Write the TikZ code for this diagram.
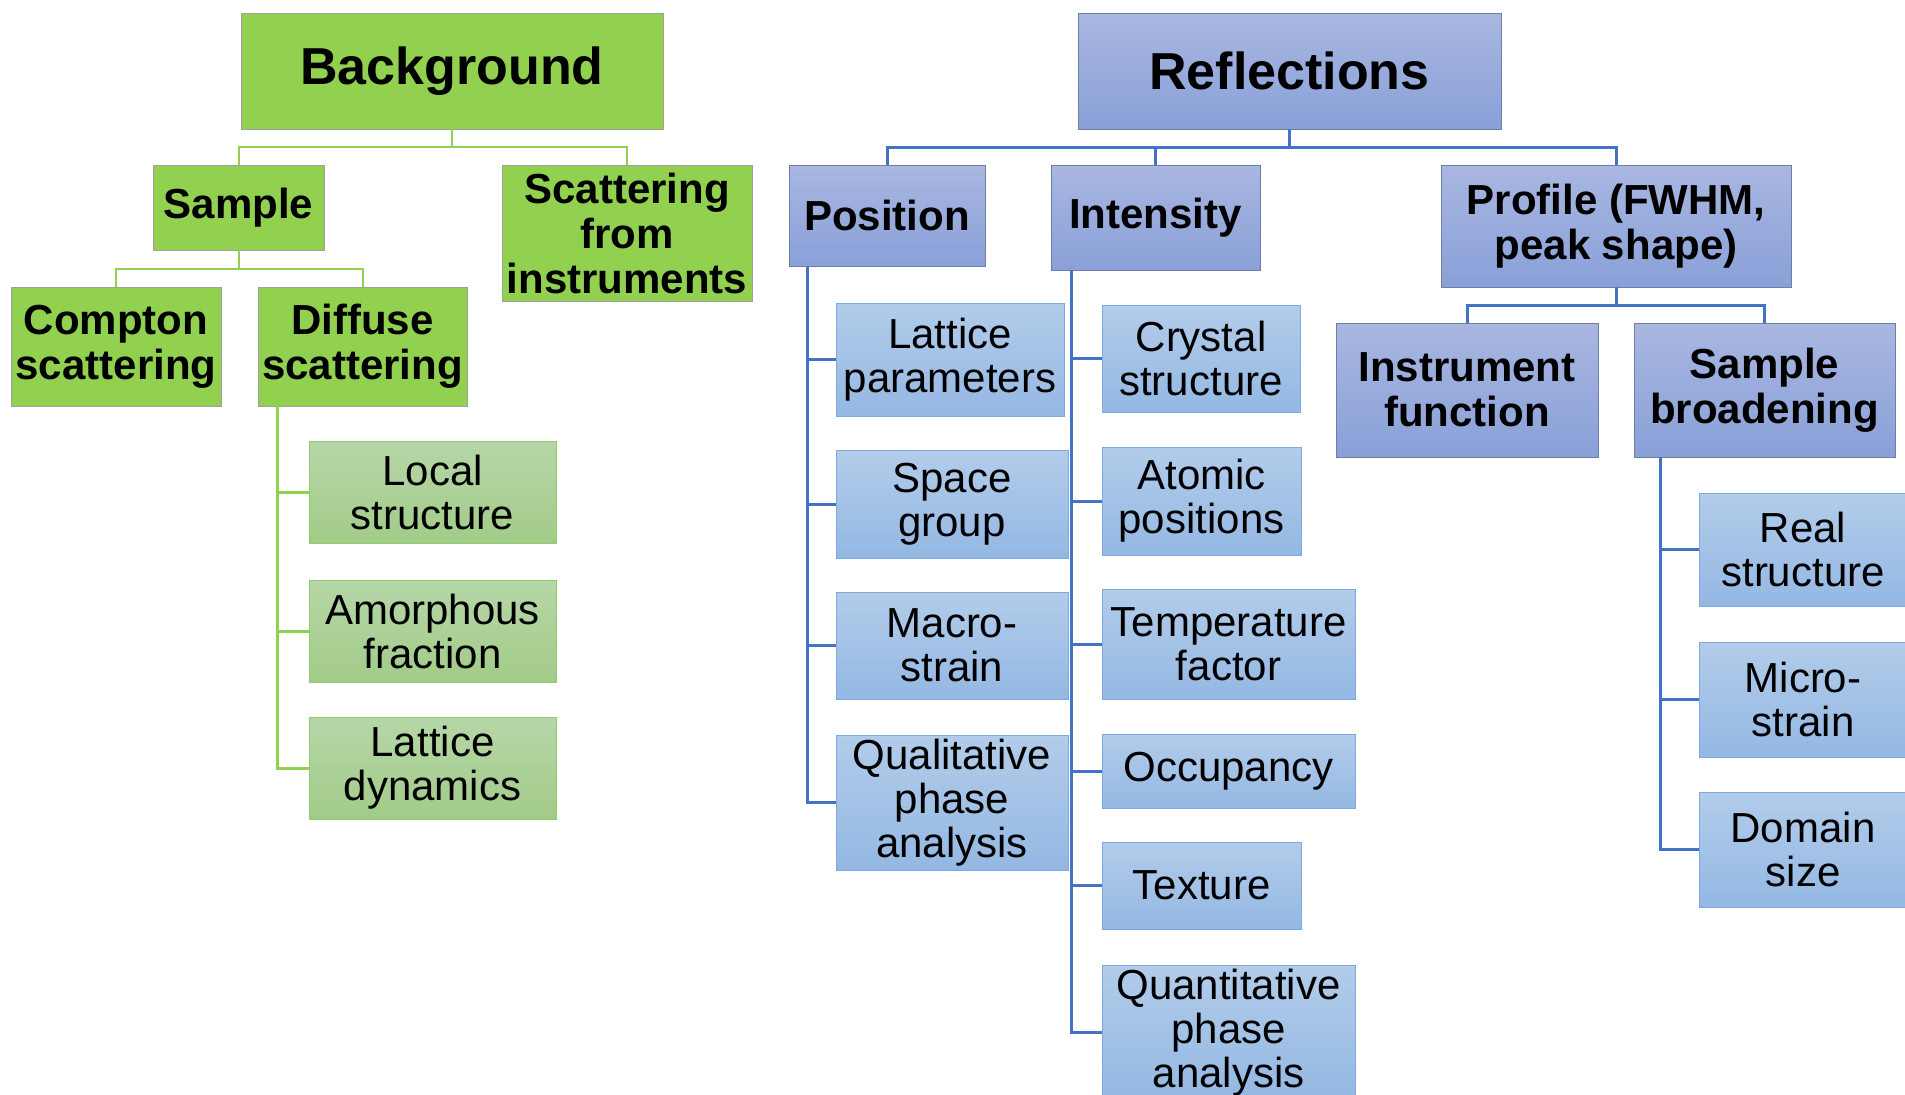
\documentclass[tikz,border=0pt]{standalone}
\usepackage{fontspec}
\setmainfont{Liberation Sans}
\usepackage{xcolor}

\definecolor{grnfill}{HTML}{92D050}
\definecolor{grntop}{HTML}{B6D7A8}
\definecolor{grnbot}{HTML}{A2CB88}
\definecolor{grnedge}{HTML}{8FCB66}
\definecolor{blutop}{HTML}{A9B7E1}
\definecolor{blubot}{HTML}{89A0D8}
\definecolor{bluedge}{HTML}{6F7FA3}
\definecolor{lbtop}{HTML}{B2CCEA}
\definecolor{lbbot}{HTML}{94B8E3}
\definecolor{lbedge}{HTML}{7CA9DE}
\definecolor{bluline}{HTML}{4472C4}

\begin{document}
\begin{tikzpicture}[x=0.5pt, y=-0.5pt,
    box/.style 2 args={minimum width=#1*0.5pt, minimum height=#2*0.5pt, inner sep=0pt, align=center},
    toptitle/.style={font=\bfseries\fontsize{26}{28}\selectfont},
    headg/.style={draw=gray!75, fill=grnfill, font=\bfseries\fontsize{21}{22.5}\selectfont},
    leafg/.style={draw=grnedge, top color=grntop, bottom color=grnbot, font=\fontsize{21}{22}\selectfont},
    headb/.style={draw=bluedge, top color=blutop, bottom color=blubot, font=\bfseries\fontsize{21}{22.5}\selectfont},
    leafb/.style={draw=lbedge, top color=lbtop, bottom color=lbbot, font=\fontsize{21}{22}\selectfont},
    lineg/.style={draw=grnfill, line width=1pt},
    lineb/.style={draw=bluline, line width=1.5pt}]
  \useasboundingbox (0,0) rectangle (1905,1094);

  % background tree
  \node[headg, toptitle, box={422}{116}] (bg) at (452,71) {Background};
  \node[headg, box={171}{85}] (sample) at (238.5,207.5) {Sample};
  \node[headg, box={250}{136}] (instr) at (627,233) {Scattering\\from\\instruments};
  \node[headg, box={210}{119}] (compton) at (116,346.5) {Compton\\scattering};
  \node[headg, box={209}{119}] (diffuse) at (362.5,346.5) {Diffuse\\scattering};
  \node[leafg, box={247}{102}] (local) at (432.5,492) {Local\\structure};
  \node[leafg, box={247}{102}] (amorph) at (432.5,631) {Amorphous\\fraction};
  \node[leafg, box={247}{102}] (latdyn) at (432.5,768) {Lattice\\dynamics};

  \draw[lineg] (bg.south) -- ++(0,18) -| (sample.north);
  \draw[lineg] (bg.south) -- ++(0,18) -| (instr.north);
  \draw[lineg] (sample.south) -- ++(0,18.5) -| (compton.north);
  \draw[lineg] (sample.south) -- ++(0,18.5) -| (diffuse.north);
  \foreach \leaf in {local,amorph,latdyn}
    \draw[lineg, line width=1.5pt] (diffuse.south west) ++(20,0) |- (\leaf.west);

  % reflections tree
  \node[headb, toptitle, box={423}{116}] (refl) at (1289.5,71) {Reflections};
  \node[headb, box={196}{101}] (pos) at (887,215.5) {Position};
  \node[headb, box={209}{105}] (inten) at (1155.5,217.5) {Intensity};
  \node[headb, box={350}{122}] (prof) at (1616,226) {Profile (FWHM,\\peak shape)};
  \node[headb, box={262}{134}] (instfn) at (1467,390) {Instrument\\function};
  \node[headb, box={261}{134}] (sbroad) at (1764.5,390) {Sample\\broadening};

  \node[leafb, box={228}{113}] (latpar) at (950,359.5) {Lattice\\parameters};
  \node[leafb, box={232}{108}] (spgrp) at (952,504) {Space\\group};
  \node[leafb, box={232}{107}] (macro) at (952,645.5) {Macro-\\strain};
  \node[leafb, box={232}{135}] (qual) at (952,802.5) {Qualitative\\phase\\analysis};

  \node[leafb, box={198}{107}] (cryst) at (1201,358.5) {Crystal\\structure};
  \node[leafb, box={199}{108}] (atpos) at (1201.5,501) {Atomic\\positions};
  \node[leafb, box={253}{110}] (temp) at (1228.5,644) {Temperature\\factor};
  \node[leafb, box={253}{74}] (occ) at (1228.5,771) {Occupancy};
  \node[leafb, box={199}{87}] (tex) at (1201.5,885.5) {Texture};
  \node[leafb, box={253}{135}] (quant) at (1228.5,1032.5) {Quantitative\\phase\\analysis};

  \node[leafb, box={208}{113}] (real) at (1803,549.5) {Real\\structure};
  \node[leafb, box={208}{115}] (micro) at (1803,699.5) {Micro-\\strain};
  \node[leafb, box={208}{115}] (domain) at (1803,849.5) {Domain\\size};

  \foreach \kid in {pos,inten,prof}
    \draw[lineb] (refl.south) -- ++(0,18) -| (\kid.north);
  \foreach \kid in {instfn,sbroad}
    \draw[lineb] (prof.south) -- ++(0,18) -| (\kid.north);
  \foreach \leaf in {latpar,spgrp,macro,qual}
    \draw[lineb] (pos.south west) ++(19,0) |- (\leaf.west);
  \foreach \leaf in {cryst,atpos,temp,occ,tex,quant}
    \draw[lineb] (inten.south west) ++(21,0) |- (\leaf.west);
  \foreach \leaf in {real,micro,domain}
    \draw[lineb] (sbroad.south west) ++(27,0) |- (\leaf.west);
\end{tikzpicture}
\end{document}
